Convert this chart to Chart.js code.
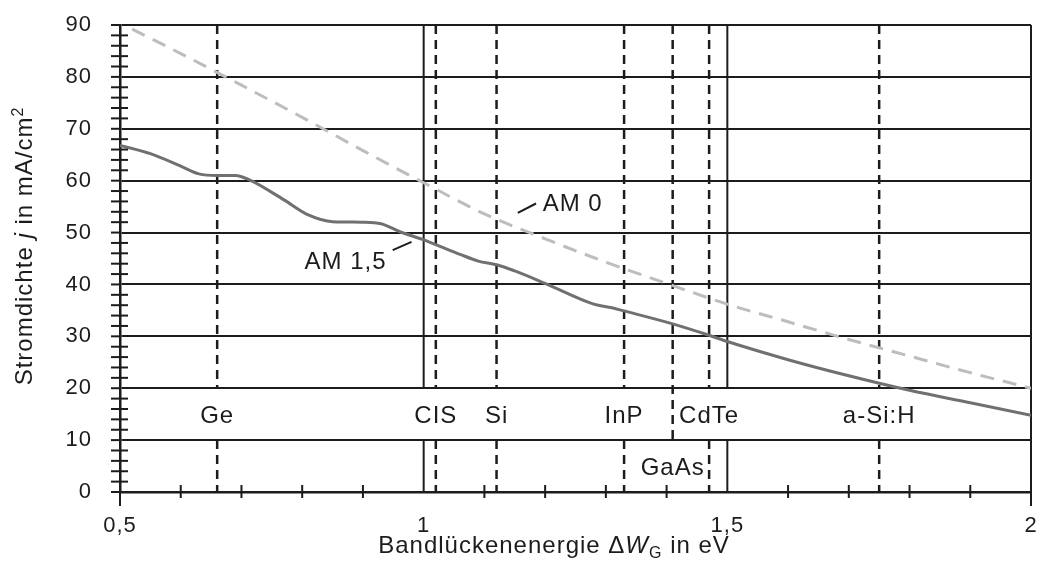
<!DOCTYPE html>
<html>
<head>
<meta charset="utf-8">
<title>Stromdichte über Bandlückenenergie</title>
<script src="https://cdn.jsdelivr.net/npm/chart.js@4.4.1/dist/chart.umd.min.js"></script>
<style>
  html, body { margin: 0; padding: 0; background: #fff; }
</style>
</head>
<body>
<canvas id="chart" width="1038" height="570"></canvas>
<script>
// AM 1,5 (solid grey curve)
var am15Energy  = [0.5, 0.55, 0.6, 0.63, 0.66, 0.69, 0.714, 0.77, 0.81, 0.85, 0.9, 0.93, 0.96, 1.0, 1.03, 1.06, 1.09, 1.12, 1.15, 1.2, 1.28, 1.31, 1.33, 1.41, 1.47, 1.5, 1.6, 1.7, 1.8, 1.9, 2.0];
var am15Current = [66.8, 65.2, 62.8, 61.3, 61.0, 61.0, 60.1, 56.3, 53.4, 52.1, 52.0, 51.7, 50.2, 48.6, 47.2, 45.8, 44.5, 43.8, 42.6, 40.2, 36.2, 35.5, 34.9, 32.4, 30.2, 29, 25.5, 22.4, 19.6, 17.2, 14.8];

// AM 0 (dashed light grey curve)
var am0Energy  = [0.52, 0.6, 0.7, 0.8, 0.9, 1.0, 1.1, 1.2, 1.3, 1.4, 1.5, 1.6, 1.7, 1.8, 1.9, 2.0];
var am0Current = [89.2, 84.5, 78.4, 72.2, 65.8, 59.6, 53.6, 48.8, 44.3, 40.2, 36.2, 32.8, 29.4, 26.2, 23, 20];

// band gaps of the cell materials
var materialNames = ['Ge', 'CIS', 'Si', 'InP', 'GaAs', 'CdTe', 'a-Si:H'];
var materialGaps  = [0.66, 1.02, 1.12, 1.33, 1.41, 1.47, 1.75];
var materialRow   = ['upper', 'upper', 'upper', 'upper', 'lower', 'upper', 'upper'];

var xTickValues = [0.5, 1, 1.5, 2];
var xTickLabels = ['0,5', '1', '1,5', '2'];
var yTickValues = [0, 10, 20, 30, 40, 50, 60, 70, 80, 90];

var FONT = "'Liberation Sans', Arial, sans-serif";
var INK = '#1c1c1c';

function toPoints(xs, ys) {
    return xs.map(function(x, i) { return {x: x, y: ys[i]}; });
}

function line(ctx, x1, y1, x2, y2) {
    ctx.beginPath();
    ctx.moveTo(x1, y1);
    ctx.lineTo(x2, y2);
    ctx.stroke();
}

// draws a text made of pieces (normal / italic / sub / sup), centred on cx
function richText(ctx, parts, cx, baseline, size) {
    var total = 0;
    parts.forEach(function(p) {
        var s = p.sub || p.sup ? Math.round(size * 0.65) : size;
        ctx.font = (p.italic ? 'italic ' : '') + s + 'px ' + FONT;
        p.w = ctx.measureText(p.t).width;
        total += p.w;
    });
    var x = cx - total / 2;
    parts.forEach(function(p) {
        var s = p.sub || p.sup ? Math.round(size * 0.65) : size;
        ctx.font = (p.italic ? 'italic ' : '') + s + 'px ' + FONT;
        var dy = p.sub ? 5 : (p.sup ? -9 : 0);
        ctx.fillText(p.t, x, baseline + dy);
        x += p.w;
    });
}

var overlay = {
    id: 'overlay',
    beforeDraw: function(chart) {
        chart.ctx.letterSpacing = '1px';
    },
    beforeDatasetsDraw: function(chart) {
        var ctx = chart.ctx, xs = chart.scales.x, ys = chart.scales.y;
        var top = ys.getPixelForValue(90), bottom = ys.getPixelForValue(0);
        var y10 = ys.getPixelForValue(10), y20 = ys.getPixelForValue(20);
        ctx.save();
        ctx.strokeStyle = INK;
        ctx.lineWidth = 2;
        // inner solid verticals, open where the labels sit
        xTickValues.slice(1, -1).forEach(function(v) {
            var px = xs.getPixelForValue(v);
            line(ctx, px, top, px, y20);
            line(ctx, px, y10, px, bottom);
        });
        // dashed band gap lines
        ctx.lineWidth = 2.5;
        ctx.setLineDash([9, 6]);
        materialGaps.forEach(function(g, i) {
            var px = xs.getPixelForValue(g);
            if (materialRow[i] === 'upper') {
                line(ctx, px, top, px, y20);
                line(ctx, px, y10, px, bottom);
            } else {
                line(ctx, px, top, px, y10);
            }
        });
        ctx.restore();
    },
    afterDatasetsDraw: function(chart) {
        var ctx = chart.ctx, xs = chart.scales.x, ys = chart.scales.y;
        var left = xs.getPixelForValue(0.5), bottom = ys.getPixelForValue(0);
        ctx.save();
        ctx.letterSpacing = '1px';
        ctx.strokeStyle = INK;
        ctx.fillStyle = INK;
        ctx.lineWidth = 2;

        // minor ticks on the y axis (every 2)
        for (var v = 0; v <= 90; v += 2) {
            var py = ys.getPixelForValue(v);
            line(ctx, left - 9, py, left + (v % 10 === 0 ? 0 : 8), py);
        }
        // ticks on the x axis (every 0,1)
        for (var k = 5; k <= 20; k++) {
            if (k === 10 || k === 15) continue;
            var px = xs.getPixelForValue(k / 10);
            if (k === 5 || k === 20) line(ctx, px, bottom, px, bottom + 14);
            else line(ctx, px, bottom - 7, px, bottom + 6);
        }

        // material labels
        ctx.font = '24px ' + FONT;
        ctx.textAlign = 'center';
        ctx.textBaseline = 'alphabetic';
        materialNames.forEach(function(name, i) {
            var band = materialRow[i] === 'upper' ? 15 : 5;
            ctx.fillText(name, xs.getPixelForValue(materialGaps[i]), ys.getPixelForValue(band) + 8.5);
        });

        // curve labels with leader lines
        ctx.textAlign = 'left';
        ctx.fillText('AM 0', xs.getPixelForValue(1.196), ys.getPixelForValue(55.7) + 8.5);
        line(ctx, xs.getPixelForValue(1.155), ys.getPixelForValue(53.8), xs.getPixelForValue(1.185), ys.getPixelForValue(55.6));
        ctx.textAlign = 'right';
        ctx.fillText('AM 1,5', xs.getPixelForValue(0.939), ys.getPixelForValue(44.7) + 8.5);
        line(ctx, xs.getPixelForValue(0.949), ys.getPixelForValue(46.6), xs.getPixelForValue(0.98), ys.getPixelForValue(48.2));

        // axis titles
        ctx.textAlign = 'left';
        richText(ctx, [
            {t: 'Bandlückenenergie Δ'},
            {t: 'W', italic: true},
            {t: 'G', sub: true},
            {t: ' in eV'}
        ], 554, 553, 24);

        ctx.translate(32, 246);
        ctx.rotate(-Math.PI / 2);
        richText(ctx, [
            {t: 'Stromdichte '},
            {t: 'j', italic: true},
            {t: ' in mA/cm'},
            {t: '2', sup: true}
        ], 0, 0, 24);
        ctx.restore();
    }
};

var ctx = document.getElementById('chart').getContext('2d');
var chart = new Chart(ctx, {
    type: 'line',
    data: {
        datasets: [{
            label: 'AM 0',
            data: toPoints(am0Energy, am0Current),
            borderColor: '#bdbdbd',
            borderWidth: 3,
            borderDash: [14, 9],
            pointRadius: 0,
            cubicInterpolationMode: 'monotone'
        }, {
            label: 'AM 1,5',
            data: toPoints(am15Energy, am15Current),
            borderColor: '#707070',
            borderWidth: 3,
            pointRadius: 0,
            cubicInterpolationMode: 'monotone'
        }]
    },
    options: {
        responsive: false,
        devicePixelRatio: 1,
        animation: false,
        layout: { padding: { top: 25, right: 7, left: 0, bottom: 0 } },
        plugins: {
            legend: { display: false },
            tooltip: { enabled: false }
        },
        scales: {
            x: {
                type: 'linear',
                min: 0.5,
                max: 2,
                afterBuildTicks: function(scale) {
                    scale.ticks = xTickValues.map(function(v) { return {value: v}; });
                },
                afterFit: function(scale) {
                    scale.height = 78;
                    scale.paddingLeft = 0;
                    scale.paddingRight = 0;
                },
                grid: {
                    drawTicks: false,
                    lineWidth: 2,
                    color: function(c) {
                        return c.tick && c.tick.value === 2 ? INK : 'rgba(0,0,0,0)';
                    }
                },
                border: { color: INK, width: 2.5 },
                ticks: {
                    padding: 21,
                    maxRotation: 0,
                    autoSkip: false,
                    color: INK,
                    font: { family: FONT, size: 22 },
                    callback: function(value) {
                        var i = xTickValues.indexOf(value);
                        return i < 0 ? '' : xTickLabels[i];
                    }
                }
            },
            y: {
                min: 0,
                max: 90,
                afterBuildTicks: function(scale) {
                    scale.ticks = yTickValues.map(function(v) { return {value: v}; });
                },
                afterFit: function(scale) {
                    scale.width = 120;
                    scale.paddingTop = 0;
                    scale.paddingBottom = 0;
                },
                grid: { drawTicks: false, lineWidth: 2, color: INK },
                border: { color: INK, width: 2.5 },
                ticks: {
                    padding: 28,
                    color: INK,
                    font: { family: FONT, size: 22 }
                }
            }
        }
    },
    plugins: [overlay]
});
</script>
</body>
</html>
